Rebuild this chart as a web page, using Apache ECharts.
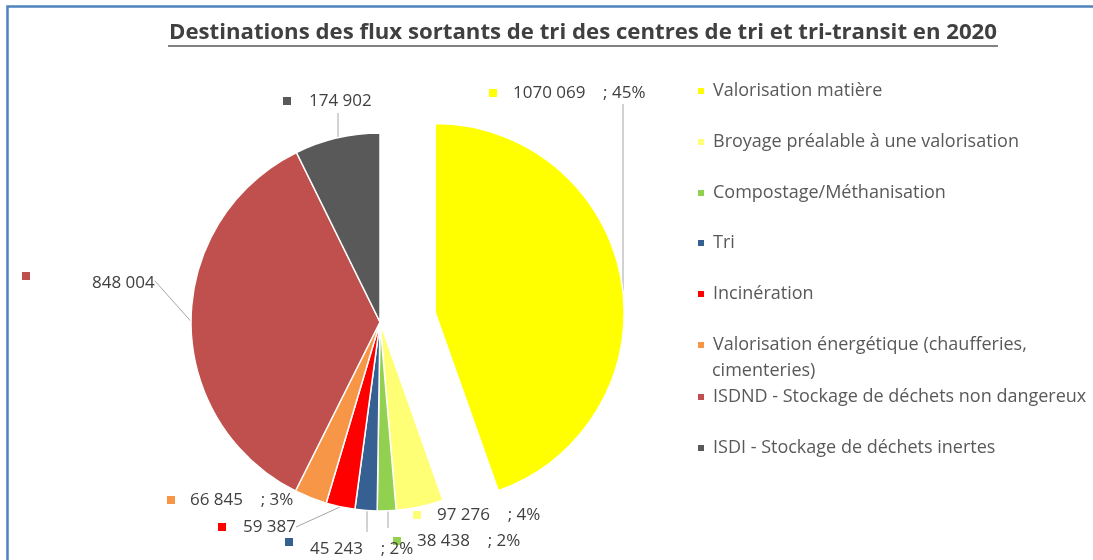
<!DOCTYPE html>
<html>
<head>
<meta charset="utf-8">
<script src="https://cdn.jsdelivr.net/npm/echarts@6/dist/echarts.min.js"></script>
<style>
  html, body { margin: 0; padding: 0; background: #ffffff; }
  #chart { width: 1093px; height: 560px; }
</style>
</head>
<body>
<div id="chart"></div>
<script>
// Outgoing flows of sorting centres, by destination (tonnes, 2020)
const categories = [
  'Valorisation matière',
  'Broyage préalable à une valorisation',
  'Compostage/Méthanisation',
  'Tri',
  'Incinération',
  'Valorisation énergétique (chaufferies, cimenteries)',
  'ISDND - Stockage de déchets non dangereux',
  'ISDI - Stockage de déchets inertes'
];
const tonnages = [1070069, 97276, 38438, 45243, 59387, 66845, 848004, 174902];
const sliceColors = ['#FFFF00', '#FFFF75', '#92D050', '#366092', '#FF0000', '#F79646', '#C0504D', '#595959'];
const withShare = [true, true, true, true, false, true, false, false];
const titleText = 'Destinations des flux sortants de tri des centres de tri et tri-transit en 2020';

const FONT = '"Open Sans", sans-serif';
const TEXT_COLOR = '#404040';
const CENTER = [380, 322];
const RADIUS = 189;
const PULL = 56;          // distance the first slice is pulled out

const total = tonnages.reduce((a, b) => a + b, 0);
function fmtTonnes(v) {
  const hi = Math.floor(v / 1000), lo = v % 1000;
  return hi ? hi + ' ' + String(lo).padStart(3, '0') : String(lo);
}

// where each data label sits: left edge of its key square, vertical middle of the text
const labelSpots = [[489, 93], [413, 515], [393, 541], [285, 549], [218, 527], [167, 500], [22, 283], [283, 101]];
const keyGap = [16, 16, 16, 17, 17, 15, 62, 18];
const keyRaised = [false, false, false, true, false, false, true, false];
// straight vertical leaders: [x of the leader, y where it meets the label]; null = default leader
const verticalLeaders = [[623, 104], null, [388, 528], [367, 532], null, null, null, [338, 113]];
// vertical middles of the legend rows
const legendRows = [91, 142, 193, 243, 294, 345, 397, 448];

const rich = { t: { fontSize: 17, fontFamily: FONT, color: TEXT_COLOR, lineHeight: 22 } };
sliceColors.forEach((c, i) => {
  rich['m' + i] = { width: 8, height: 8, backgroundColor: c, verticalAlign: keyRaised[i] ? 'top' : 'middle' };
  rich['g' + i] = { width: keyGap[i] };
});

const hidden = { itemStyle: { color: 'rgba(0,0,0,0)', borderWidth: 0 }, label: { show: false }, labelLine: { show: false }, emphasis: { disabled: true } };

// pulled-out slice: the first category plus an invisible remainder
const pulledData = [
  { name: categories[0], value: tonnages[0], itemStyle: { color: sliceColors[0] } },
  Object.assign({ name: '', value: total - tonnages[0] }, hidden)
];
// the remaining slices, after an invisible gap for the first category
const restData = [Object.assign({ name: ' ', value: tonnages[0] }, hidden)].concat(
  categories.slice(1).map((name, k) => {
    const i = k + 1;
    const item = { name: name, value: tonnages[i], itemStyle: { color: sliceColors[i] } };
    if (i === 1 || i === 5) item.labelLine = { show: false };
    return item;
  })
);

const midAngle = (tonnages[0] / total) * Math.PI;   // half of the first slice, clockwise from 12 o'clock
const pulledCenter = [CENTER[0] + PULL * Math.sin(midAngle), CENTER[1] - PULL * Math.cos(midAngle)];

// leader running straight down/up from the label to the rim of the pie
function rimLeader(i, c) {
  const spec = verticalLeaders[i];
  if (!spec) return undefined;
  const [x, yLabel] = spec;
  const half = Math.sqrt(Math.max(0, RADIUS * RADIUS - (x - c[0]) * (x - c[0])));
  const yRim = yLabel < c[1] ? c[1] - half : c[1] + half;
  return [[x, yRim], [x, yLabel]];
}

const legends = categories.map((name, i) => ({
  data: [name],
  left: 696,
  top: legendRows[i] - 11,
  padding: 0,
  icon: 'rect',
  itemWidth: 8,
  itemHeight: 8,
  selectedMode: false,
  formatter: n => (i === 5 ? 'Valorisation énergétique (chaufferies,' : n),
  textStyle: { fontSize: 18, fontFamily: FONT, color: '#595959', lineHeight: 22, padding: [0, 0, 0, 3] }
}));

function labelFormatter(p) {
  const i = categories.indexOf(p.name);
  const share = Math.round(p.value / total * 100);
  const txt = fmtTonnes(p.value) + (withShare[i] ? '    ; ' + share + '%' : '');
  return '{m' + i + '|}{g' + i + '|}{t|' + txt + '}';
}
function layoutFor(i, c) {
  const out = { x: labelSpots[i][0], y: labelSpots[i][1], align: 'left', verticalAlign: 'middle' };
  const pts = rimLeader(i, c);
  if (pts) out.labelLinePoints = pts;
  return out;
}

const sharedSeries = {
  type: 'pie',
  radius: RADIUS,
  startAngle: 90,
  clockwise: true,
  avoidLabelOverlap: false,
  emphasis: { disabled: true },
  itemStyle: { borderColor: '#ffffff', borderWidth: 1.5 },
  label: { show: true, position: 'outside', rich: rich, formatter: labelFormatter },
  labelLine: { show: true, length: 10, length2: 0, lineStyle: { color: '#A6A6A6', width: 1 } }
};

const chart = echarts.init(document.getElementById('chart'), null, { renderer: 'canvas' });
chart.setOption({
  animation: false,
  backgroundColor: '#ffffff',
  legend: legends,
  graphic: [
    { type: 'polyline', silent: true,
      shape: { points: [[7.5, 560], [7.5, 6.5], [1093, 6.5]] },
      style: { stroke: '#4F81BD', lineWidth: 2.5, fill: null } },
    { type: 'text', silent: true, x: 583, y: 33,
      style: { text: titleText, font: 'bold 22.2px ' + FONT, fill: TEXT_COLOR,
               align: 'center', verticalAlign: 'middle' } },
    { type: 'line', silent: true,
      shape: { x1: 168, y1: 46, x2: 998, y2: 46 },
      style: { stroke: '#595959', lineWidth: 1.5 } },
    { type: 'text', silent: true, x: 712, y: 371,
      style: { text: 'cimenteries)', font: '18px ' + FONT, fill: '#595959', verticalAlign: 'middle' } }
  ],
  series: [
    Object.assign({}, sharedSeries, {
      name: 'pulled',
      center: pulledCenter,
      data: pulledData,
      labelLayout: p => layoutFor(0, pulledCenter)
    }),
    Object.assign({}, sharedSeries, {
      name: 'rest',
      center: CENTER,
      data: restData,
      // data index 1..7 lines up with the category index
      labelLayout: p => layoutFor(p.dataIndex, CENTER)
    })
  ]
});
</script>
</body>
</html>
